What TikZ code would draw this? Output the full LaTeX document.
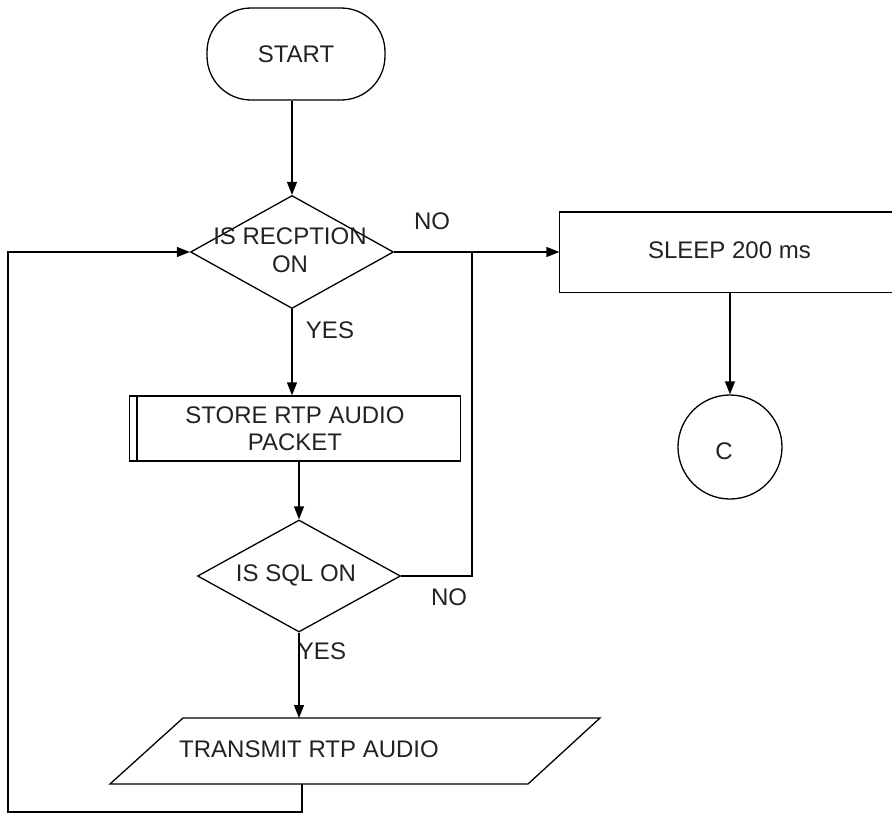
\documentclass[tikz,border=0pt]{standalone}
\usepackage{fontspec}
\setmainfont{Liberation Sans}
\usetikzlibrary{shapes.geometric,arrows.meta}
\definecolor{txt}{HTML}{222222}
\begin{document}
\begin{tikzpicture}[x=1pt,y=-1pt,line width=1.3pt,
  every node/.style={font=\fontsize{24}{27.5}\selectfont,text=txt,inner sep=0pt},
  arr/.style={-{Triangle[length=13pt,width=10pt]}},
  box/.style={draw=black,line width=1.3pt},
  dia/.style={draw=black,line width=1.3pt,diamond,minimum width=203pt,minimum height=113pt}]
\useasboundingbox (0,0) rectangle (892,814);
% shapes
\node[box,rounded corners=44pt,minimum width=178pt,minimum height=92pt] (start) at (296,54) {START};
\node[dia] (d1) at (292,252) {};
\node[align=center] (d1t) at (290,250) {IS RECPTION\\ON};
\node[box,align=center,minimum width=331pt,minimum height=65pt] (store) at (295,428.5) {STORE RTP AUDIO\\PACKET};
\draw ([xshift=8pt]store.north west) -- ([xshift=8pt]store.south west);
\node[dia,minimum height=112pt] (d2) at (299,576) {};
\node (d2t) at (296,575) {IS SQL ON};
\node[minimum width=332pt,minimum height=79pt] (sleep) at (726,252) {};
\draw (sleep.north east) -- (sleep.north west) -- (sleep.south west) -- (sleep.south east);
\node (sleept) at (729.5,250) {SLEEP 200 ms};
\node[box,circle,minimum size=104pt] (c) at (730,447) {};
\node (ct) at (724,451) {C};
% parallelogram
\coordinate (pTL) at (183,718);
\coordinate (pTR) at (600,718);
\coordinate (pBR) at (528,784);
\coordinate (pBL) at (110,784);
\draw (pTL) -- (pTR) -- (pBR) -- (pBL) -- cycle;
\node (pt) at (309,749) {TRANSMIT RTP AUDIO};
\coordinate (ptop) at (299,718);
\coordinate (pbot) at (302,784);
% connectors
\draw[arr] (d1.north |- start.south) -- (d1.north);
\draw[arr] (d1.east) -- (sleep.west);
\draw[arr] (c.north |- sleep.south) -- (c.north);
\draw[arr] (d1.south) -- (d1.south |- store.north);
\draw[arr] (d2.north |- store.south) -- (d2.north);
\coordinate (j) at (472,252);
\draw (d2.east) -| (j);
\draw[arr] (d2.south) -- (ptop);
\coordinate (lb) at (8,812);
\draw[arr] (pbot) |- (lb) |- (d1.west);
% labels
\node (no1) at (432,221.5) {NO};
\node (yes1) at (330,330) {YES};
\node (no2) at (449,597) {NO};
\node (yes2) at (322,651) {YES};
\end{tikzpicture}
\end{document}
